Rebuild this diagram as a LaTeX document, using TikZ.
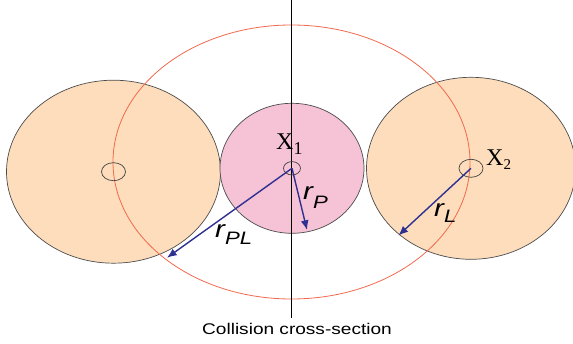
\documentclass[tikz,border=0pt]{standalone}
\usepackage{fontspec}
\setmainfont{Liberation Serif}
\setsansfont{Liberation Sans}
\usepackage{tikz}
\usetikzlibrary{arrows.meta, calc}
\definecolor{peach}{HTML}{FDDDBB}
\definecolor{rose}{HTML}{F5C2D6}
\definecolor{sect}{HTML}{F2694E}
\definecolor{vec}{HTML}{2E3192}
\tikzset{
  blob/.style  = {draw=black!70, line width=0.7pt},
  hub/.style   = {draw=black!75, line width=0.7pt},
  rad/.style   = {vec, line width=1.4pt, -{Latex[length=3.4mm, width=2.8mm]}},
  xlbl/.style  = {anchor=base west, inner sep=0pt, font=\fontsize{24}{24}\selectfont},
  rlbl/.style  = {anchor=base west, inner sep=0pt, font=\sffamily\itshape\fontsize{24}{24}\selectfont},
}
\newcommand{\dn}[3]{\raisebox{-#1pt}{\fontsize{#2}{#2}\selectfont #3}}
\newcommand{\wide}[1]{\scalebox{1.23}[1]{#1}}

\begin{document}
\begin{tikzpicture}[x=1pt, y=-1pt]
  \useasboundingbox (0,0) rectangle (573,344);
  \coordinate (cL) at (113.5,171.7);
  \coordinate (cP) at (292,168.3);
  \coordinate (cR) at (471,168.3);
  \coordinate (eP)  at (307,230);
  \coordinate (ePL) at (167,257.7);
  \coordinate (eL)  at (398.4,235.5);
  % particles
  \fill[peach] (cL) ellipse [x radius=107, y radius=91.5];
  \draw[blob] (cL) ellipse [x radius=107, y radius=91.5];
  \fill[rose] (cP) ellipse [x radius=72, y radius=65];
  \draw[blob] (cP) ellipse [x radius=72, y radius=65];
  \fill[peach] (cR) ellipse [x radius=104.5, y radius=91];
  \draw[blob] (cR) ellipse [x radius=104.5, y radius=91];
  % cross-section
  \draw[sect, line width=0.8pt] (291.5,162) ellipse [x radius=178.5, y radius=137];
  \coordinate (top) at (291,0);
  \node[font=\sffamily\fontsize{15.5}{15.5}\selectfont] (cap) at (297,329)
    {\wide{Collision cross-section}};
  \draw[line width=0.8pt] (top) -- (291,318);
  \draw[hub] (cL) ellipse [x radius=12, y radius=9];
  \draw[hub] (cP) ellipse [x radius=8.5, y radius=6.7];
  \draw[hub] (cR) ellipse [x radius=12, y radius=9];
  % radii
  \draw[rad] (cP) -- (ePL);
  \draw[rad] (cP) -- (eP);
  \draw[rad] (cR) -- (eL);
  \node[xlbl] (x1) at (276,149.3) {X\dn{5}{18}{1}};
  \node[xlbl] (x2) at (486,166) {X\dn{4}{15}{2}};
  \node[rlbl] (rp) at (303,200) {\wide{r\dn{9}{18}{P}}};
  \node[rlbl] (rpl) at (215,238) {\wide{r\dn{7}{18}{PL}}};
  \node[rlbl] (rl) at (434,217) {\wide{r\dn{6}{18}{L}}};
\end{tikzpicture}
\end{document}
